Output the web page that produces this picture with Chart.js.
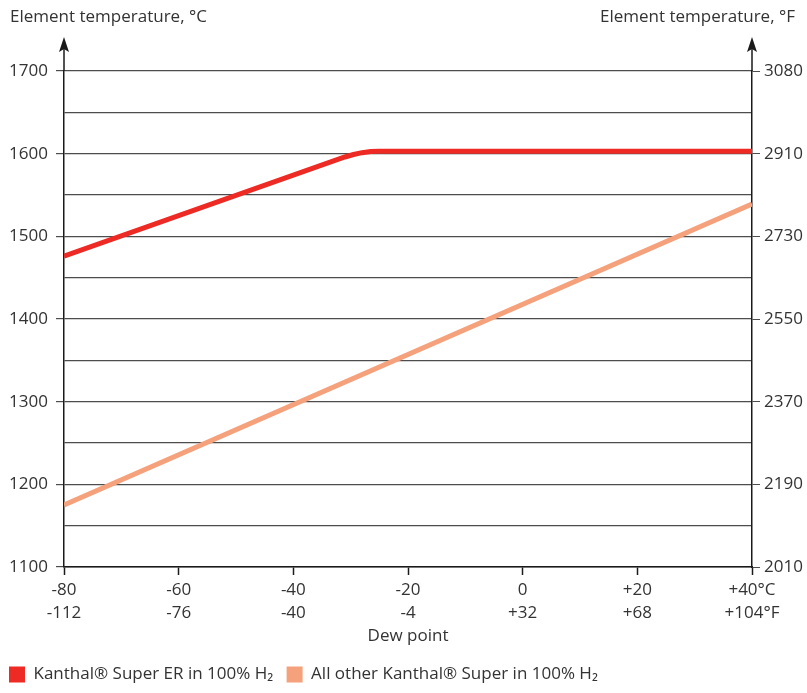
<!DOCTYPE html>
<html>
<head>
<meta charset="utf-8">
<script src="https://cdn.jsdelivr.net/npm/chart.js@4.4.1/dist/chart.umd.min.js"></script>
<style>
    html, body { margin: 0; padding: 0; background: #fff; }
    #wrap { width: 807px; height: 693px; }
</style>
</head>
<body>
<div id="wrap"><canvas id="dewChart" width="807" height="693"></canvas></div>
<script>
const dewTicksC = [-80, -60, -40, -20, 0, 20, 40];
const dewLabelsC = ['-80', '-60', '-40', '-20', '0', '+20', '+40°C'];
const dewLabelsF = ['-112', '-76', '-40', '-4', '+32', '+68', '+104°F'];
const tempTicksC = [1100, 1200, 1300, 1400, 1500, 1600, 1700];
const tempLabelsF = ['2010', '2190', '2370', '2550', '2730', '2910', '3080'];

// Kanthal Super ER in 100% H2
const erDew = [-80, -31, -29.5, -28, -26.5, -25, 40];
const erTemp = [1476, 1596, 1599, 1601.2, 1602.5, 1603, 1603];
// All other Kanthal Super in 100% H2
const otherDew = [-80, 40];
const otherTemp = [1175, 1539];

const textColor = '#333333';
const gridColor = '#4d4d4d';
const axisColor = '#1a1a1a';
const fontFamily = '"Open Sans", Roboto, sans-serif';
const fontSize = 17;

const toPoints = (xs, ys) => xs.map((x, i) => ({ x: x, y: ys[i] }));

const axisDecor = {
    id: 'axisDecor',
    afterInit(chart) {
        const legend = chart.legend;
        if (legend) {
            const fit = legend.fit;
            legend.fit = function () {
                fit.call(this);
                this.height = 36;
            };
        }
    },
    afterDraw(chart) {
        const { ctx, chartArea } = chart;
        ctx.save();
        ctx.strokeStyle = axisColor;
        ctx.fillStyle = axisColor;
        ctx.lineWidth = 1.5;
        [chartArea.left, chartArea.right].forEach(x => {
            ctx.beginPath();
            ctx.moveTo(x, chartArea.top);
            ctx.lineTo(x, chartArea.top - 24);
            ctx.stroke();
            ctx.beginPath();
            ctx.moveTo(x, chartArea.top - 34);
            ctx.lineTo(x - 5, chartArea.top - 19);
            ctx.lineTo(x, chartArea.top - 22);
            ctx.lineTo(x + 5, chartArea.top - 19);
            ctx.closePath();
            ctx.fill();
        });
        ctx.fillStyle = textColor;
        ctx.font = fontSize + 'px ' + fontFamily;
        ctx.textBaseline = 'middle';
        ctx.textAlign = 'left';
        ctx.fillText('Element temperature, °C', 10, 17);
        ctx.textAlign = 'right';
        ctx.fillText('Element temperature, °F', 795, 17);
        ctx.restore();
    }
};

new Chart(document.getElementById('dewChart'), {
    type: 'line',
    data: {
        datasets: [
            {
                label: 'Kanthal® Super ER in 100% H₂',
                data: toPoints(erDew, erTemp),
                borderColor: '#ee2a24',
                backgroundColor: '#ee2a24',
                borderWidth: 5,
                pointRadius: 0,
                tension: 0,
                borderJoinStyle: 'round',
                yAxisID: 'y'
            },
            {
                label: 'All other Kanthal® Super in 100% H₂',
                data: toPoints(otherDew, otherTemp),
                borderColor: '#f5a17b',
                backgroundColor: '#f5a17b',
                borderWidth: 5,
                pointRadius: 0,
                tension: 0,
                yAxisID: 'y'
            }
        ]
    },
    options: {
        responsive: false,
        animation: false,
        layout: { padding: { top: 71, left: 0, right: 0, bottom: 0 } },
        plugins: {
            tooltip: { enabled: false },
            legend: {
                position: 'bottom',
                align: 'start',
                labels: {
                    color: textColor,
                    font: { family: fontFamily, size: fontSize },
                    boxWidth: 16,
                    boxHeight: 16,
                    padding: 9,
                    generateLabels(chart) {
                        return chart.data.datasets.map((ds, i) => ({
                            text: ds.label + ' ',
                            fillStyle: ds.borderColor,
                            strokeStyle: ds.borderColor,
                            lineWidth: 0,
                            datasetIndex: i,
                            fontColor: textColor
                        }));
                    }
                }
            }
        },
        scales: {
            x: {
                type: 'linear',
                min: -80,
                max: 40,
                afterBuildTicks(scale) {
                    scale.ticks = dewTicksC.map(v => ({ value: v }));
                },
                afterFit(scale) { scale.height = 90; },
                ticks: {
                    color: textColor,
                    font: { family: fontFamily, size: fontSize, lineHeight: '23px' },
                    padding: 4,
                    maxRotation: 0,
                    autoSkip: false,
                    callback(value) {
                        const i = dewTicksC.indexOf(value);
                        return i < 0 ? '' : [dewLabelsC[i], dewLabelsF[i]];
                    }
                },
                grid: { drawOnChartArea: false, tickLength: 8, tickColor: axisColor, tickWidth: 1.5 },
                border: { color: axisColor, width: 1.5 },
                title: {
                    display: true,
                    text: 'Dew point',
                    color: textColor,
                    font: { family: fontFamily, size: fontSize },
                    padding: { top: 0, bottom: 11 }
                }
            },
            y: {
                position: 'left',
                min: 1100,
                max: 1700,
                afterFit(scale) { scale.width = 64; },
                ticks: {
                    stepSize: 50,
                    color: textColor,
                    font: { family: fontFamily, size: fontSize },
                    padding: 8,
                    callback(value) {
                        return tempTicksC.includes(value) ? String(value) : '';
                    }
                },
                grid: {
                    color: gridColor,
                    lineWidth: 1.2,
                    tickLength: 8,
                    tickColor(ctx) {
                        return ctx.tick && tempTicksC.includes(ctx.tick.value) ? gridColor : 'rgba(0,0,0,0)';
                    }
                },
                border: { color: axisColor, width: 1.5 }
            },
            y2: {
                position: 'right',
                min: 1100,
                max: 1700,
                afterFit(scale) { scale.width = 55; },
                ticks: {
                    stepSize: 100,
                    color: textColor,
                    font: { family: fontFamily, size: fontSize },
                    padding: 4,
                    callback(value) {
                        const i = tempTicksC.indexOf(value);
                        return i < 0 ? '' : tempLabelsF[i];
                    }
                },
                grid: { drawOnChartArea: false, tickLength: 8, tickColor: gridColor },
                border: { color: axisColor, width: 1.5 }
            }
        }
    },
    plugins: [axisDecor]
});
</script>
</body>
</html>
